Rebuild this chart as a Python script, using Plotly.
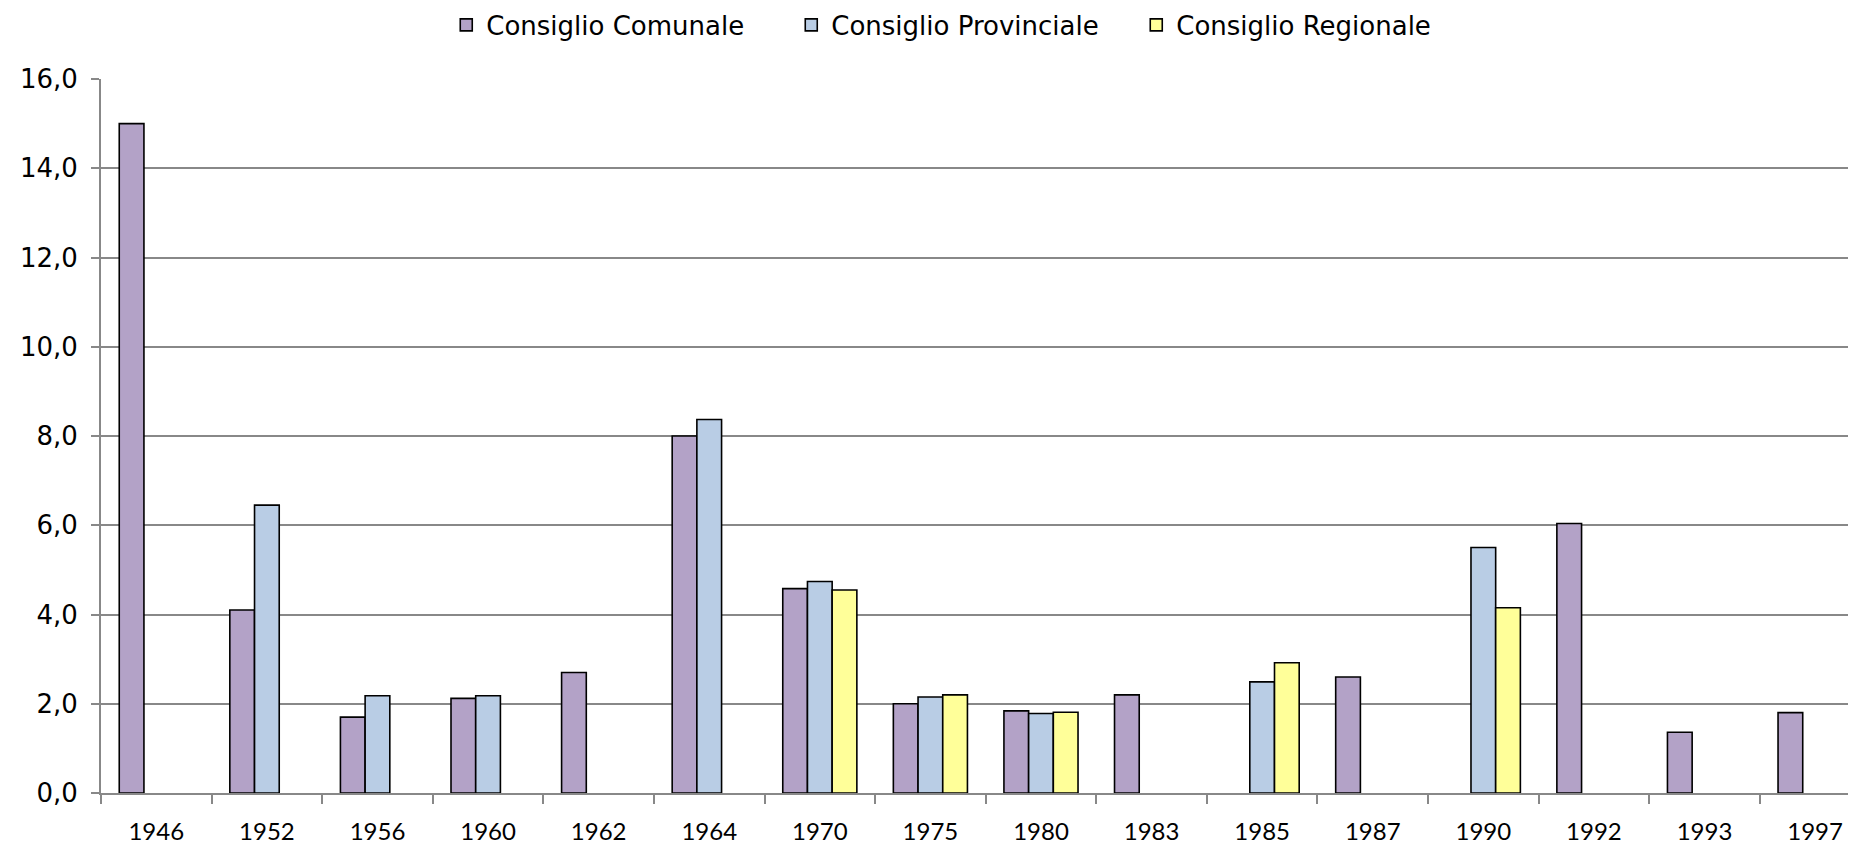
import plotly.graph_objects as go

years = ["1946", "1952", "1956", "1960", "1962", "1964", "1970", "1975",
         "1980", "1983", "1985", "1987", "1990", "1992", "1993", "1997"]
comunale = [15.0, 4.1, 1.7, 2.12, 2.7, 8.0, 4.58, 2.0, 1.84, 2.2, None, 2.6, None, 6.04, 1.36, 1.8]
provinciale = [None, 6.45, 2.18, 2.18, None, 8.37, 4.74, 2.15, 1.78, None, 2.49, None, 5.5, None, None, None]
regionale = [None, None, None, None, None, None, 4.55, 2.2, 1.81, None, 2.92, None, 4.15, None, None, None]

names = ["Consiglio Comunale", "Consiglio Provinciale", "Consiglio Regionale"]
colors = ["#B3A2C7", "#B9CDE5", "#FFFF99"]
series = [comunale, provinciale, regionale]

fig = go.Figure()
for name, vals, col in zip(names, series, colors):
    fig.add_trace(go.Bar(
        x=years, y=vals, name=name,
        marker=dict(color=col, line=dict(color="black", width=1.6)),
    ))

grid = "#888888"
fig.update_layout(
    width=1848, height=840,
    paper_bgcolor="white", plot_bgcolor="white",
    margin=dict(l=93, r=0, t=71, b=55, autoexpand=False),
    barmode="group", bargap=0.33, bargroupgap=0,
    separators=",.",
    font=dict(family="DejaVu Sans, Verdana", size=25, color="black"),
    legend=dict(orientation="h", x=0.4916, xanchor="center", y=1.0756, yanchor="middle",
                font=dict(family="DejaVu Sans, Verdana", size=26, color="black"),
                itemwidth=30, entrywidth=300, traceorder="normal"),
    xaxis=dict(type="category", range=[-0.5, 15.37], showline=True, linecolor=grid, linewidth=2,
               ticks="outside", tickson="boundaries", ticklen=9, tickcolor=grid, tickwidth=2,
               tickfont=dict(family="Lato, Carlito, Calibri", size=24, color="black"),
               ticklabelstandoff=16, showgrid=False, automargin=False),
    yaxis=dict(range=[0, 16], dtick=2, tickformat=".1f", showline=True, linecolor=grid, linewidth=2,
               ticks="outside", ticklen=8, tickcolor=grid, tickwidth=2,
               showgrid=True, gridcolor=grid, gridwidth=1.5, zeroline=False,
               tickfont=dict(family="DejaVu Sans, Verdana", size=26, color="black"),
               ticklabelstandoff=8, automargin=False),
)

fig.write_html("out.html")
